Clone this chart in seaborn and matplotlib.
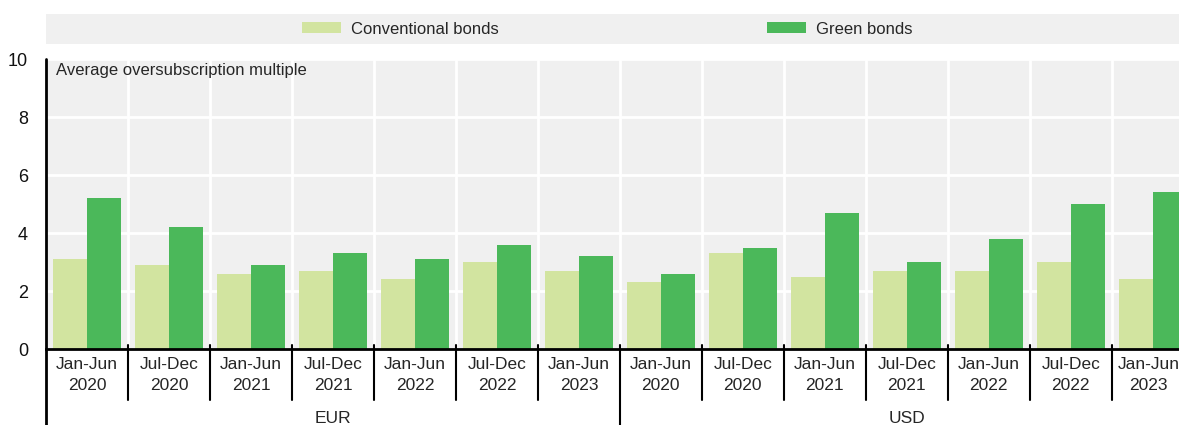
import pandas as pd
import matplotlib.pyplot as plt
import matplotlib.transforms as mtransforms
from matplotlib.patches import Patch, Rectangle
import seaborn as sns

# Data
currencies = ['EUR', 'USD']
periods = ['Jan-Jun\n2020', 'Jul-Dec\n2020', 'Jan-Jun\n2021', 'Jul-Dec\n2021',
           'Jan-Jun\n2022', 'Jul-Dec\n2022', 'Jan-Jun\n2023']
conventional_eur = [3.1, 2.9, 2.6, 2.7, 2.4, 3.0, 2.7]
green_eur = [5.2, 4.2, 2.9, 3.3, 3.1, 3.6, 3.2]
conventional_usd = [2.3, 3.3, 2.5, 2.7, 2.7, 3.0, 2.4]
green_usd = [2.6, 3.5, 4.7, 3.0, 3.8, 5.0, 5.4]
series = ['Conventional bonds', 'Green bonds']
colors = ['#d2e4a0', '#4bb85a']

# Long table for seaborn
rows = []
values = {('EUR', series[0]): conventional_eur, ('EUR', series[1]): green_eur,
          ('USD', series[0]): conventional_usd, ('USD', series[1]): green_usd}
cat_order = []
for cur in currencies:
    for p in periods:
        cat_order.append(cur + '|' + p)
for cur in currencies:
    for s in series:
        for p, v in zip(periods, values[(cur, s)]):
            rows.append({'cat': cur + '|' + p, 'series': s, 'value': v})
df = pd.DataFrame(rows)

sns.set_style('white')
plt.rcParams['font.family'] = ['Liberation Sans', 'DejaVu Sans']
FS = 12

fig = plt.figure(figsize=(11.79, 4.25), dpi=100)
ax = fig.add_axes([46 / 1179, 1 - 349 / 425, 1 - 46 / 1179, 290 / 425])
ax.set_facecolor('#f0f0f0')

sns.barplot(data=df, x='cat', y='value', hue='series', order=cat_order,
            hue_order=series, palette=colors, width=0.83, saturation=1,
            linewidth=0, legend=False, ax=ax, zorder=3)

n = len(cat_order)
ax.set_xlim(-0.5, 13.32)
ax.set_ylim(0, 10)
ax.set_yticks(range(0, 11, 2))
ax.tick_params(axis='y', direction='in', length=5, width=1.5, labelsize=FS + 1, pad=13,
               labelcolor='#111111')
ax.set_xticks(range(n))
ax.set_xticklabels([c.split('|')[1] for c in cat_order], fontsize=FS + 0.5, linespacing=1.45)
ax.tick_params(axis='x', length=0, pad=6)
# keep the last, half-clipped category label inside the figure
last = ax.get_xticklabels()[-1]
last.set_transform(last.get_transform() + mtransforms.ScaledTranslation(-4 / 100, 0, fig.dpi_scale_trans))
ax.set_xlabel('')
ax.set_ylabel('')

# grid
for y in [2, 4, 6, 8, 10]:
    ax.axhline(y, color='white', lw=2, zorder=1)
for i in range(n - 1):
    ax.axvline(i + 0.5, color='white', lw=2, zorder=1)

for side in ['top', 'right', 'left']:
    ax.spines[side].set_visible(False)
ax.spines['bottom'].set_color('black')
ax.spines['bottom'].set_linewidth(2)
ax.spines['bottom'].set_zorder(5)

trans = mtransforms.blended_transform_factory(ax.transData, ax.transAxes)
# left line running below the axis
ax.plot([-0.5, -0.5], [1, -0.262], transform=trans, color='black', lw=2, clip_on=False, zorder=6)
# separators between categories
for i in range(n - 1):
    x = i + 0.5
    bottom = -0.262 if i == 6 else -0.176
    ax.plot([x, x], [0.014, bottom], transform=trans, color='black', lw=1.5,
            clip_on=False, zorder=6)

# group labels
ax.text(3, -0.24, 'EUR', transform=trans, ha='center', va='center', fontsize=FS + 0.5)
ax.text(10, -0.24, 'USD', transform=trans, ha='center', va='center', fontsize=FS + 0.5)

ax.text(0.009, 0.985, 'Average oversubscription multiple', transform=ax.transAxes,
        ha='left', va='top', fontsize=FS)

# legend band
fig.patches.append(Rectangle((46 / 1179, 1 - 44 / 425), 1 - 46 / 1179, 30 / 425,
                             transform=fig.transFigure, facecolor='#f0f0f0',
                             edgecolor='none', zorder=0))
handles = [Patch(facecolor=c, edgecolor='none', label=s) for c, s in zip(colors, series)]
fig.legend(handles=handles, loc='center', bbox_to_anchor=(0.515, 1 - 29 / 425),
           ncol=2, frameon=False, fontsize=FS, handlelength=2.34, handleheight=0.66,
           handletextpad=0.6, columnspacing=16.1)

fig.savefig('out.png', dpi=100)
